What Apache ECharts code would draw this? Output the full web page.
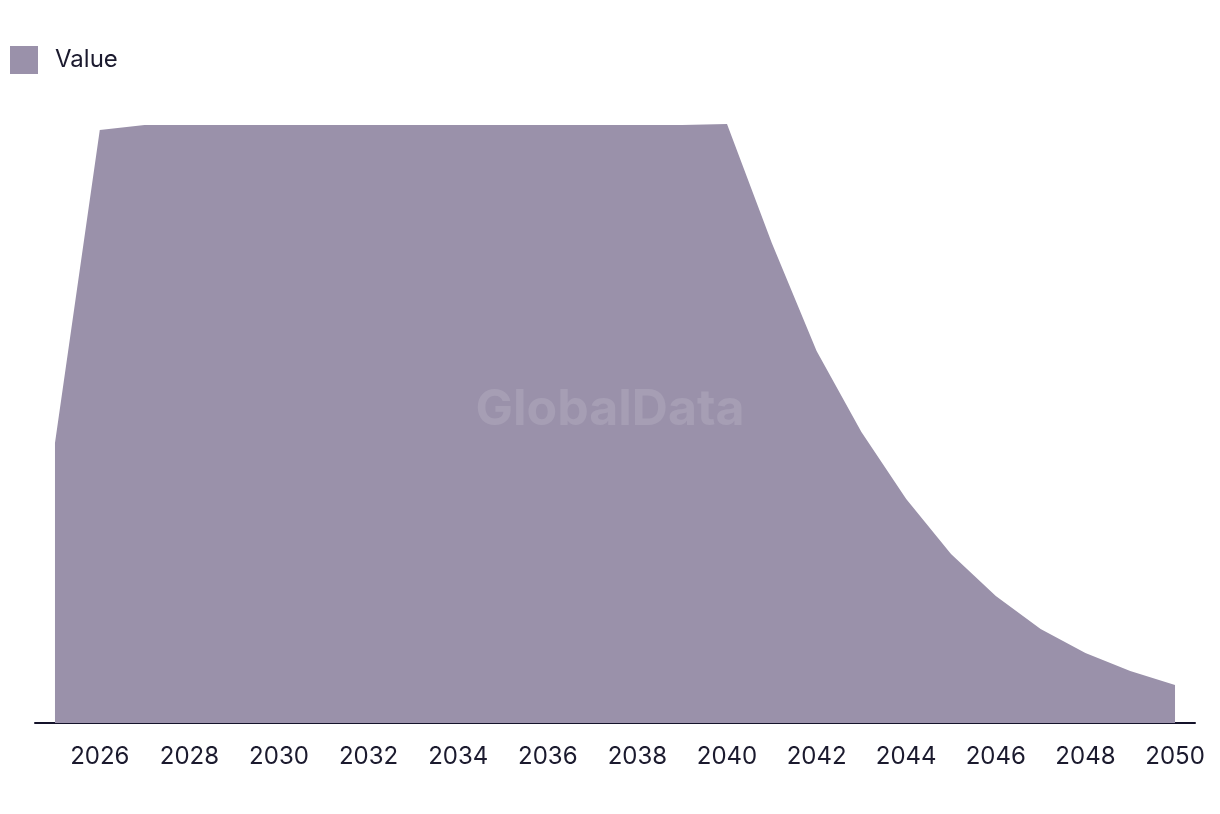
<!DOCTYPE html>
<html>
<head>
<meta charset="utf-8">
<script src="https://cdn.jsdelivr.net/npm/echarts@6/dist/echarts.min.js"></script>
<style>html,body{margin:0;padding:0;background:#fff}#c{width:1220px;height:814px}</style>
</head>
<body>
<div id="c"></div>
<script>
const years = [2025,2026,2027,2028,2029,2030,2031,2032,2033,2034,2035,2036,2037,2038,2039,2040,2041,2042,2043,2044,2045,2046,2047,2048,2049,2050];
const values = [280,593,598,598,598,598,598,598,598,598,598,598,598,598,598,599,480,372,291,224,169,127,94,70,52,38];
const tickYears = [2026,2028,2030,2032,2034,2036,2038,2040,2042,2044,2046,2048,2050];
const seriesName = 'Value';

const chart = echarts.init(document.getElementById('c'));
const font = 'Inter, "Noto Sans", sans-serif';
chart.setOption({
  animation: false,
  backgroundColor: '#ffffff',
  legend: {
    left: 5, top: 41,
    icon: 'rect', itemWidth: 28, itemHeight: 28,
    textStyle: { fontSize: 24, color: '#1b1a2e', fontFamily: font, padding: [0,0,0,12] },
    data: [seriesName]
  },
  grid: { left: 35, right: 25, top: 73, bottom: 91, containLabel: false },
  xAxis: {
    type: 'value',
    min: 2024.554, max: 2050.446,
    axisLine: { show: true, lineStyle: { color: '#14122a', width: 2 } },
    axisTick: { show: false },
    splitLine: { show: false },
    axisLabel: {
      customValues: tickYears,
      formatter: v => String(v),
      fontSize: 24, color: '#1b1a2e', fontFamily: font, margin: 22
    }
  },
  yAxis: {
    type: 'value', min: 0, max: 650,
    show: false, splitLine: { show: false }
  },
  graphic: [{
    type: 'text', left: 'center', top: 385, z: 100,
    style: { text: 'GlobalData', fontSize: 50, fontWeight: 'bold', fontFamily: font, fill: 'rgba(255,255,255,0.12)' }
  }],
  series: [{
    name: seriesName,
    type: 'line',
    data: years.map((y,i)=>[y, values[i]]),
    symbol: 'none',
    lineStyle: { width: 0 },
    itemStyle: { color: '#9a91aa' },
    areaStyle: { color: '#9a91aa', opacity: 1 }
  }]
});
</script>
</body>
</html>
